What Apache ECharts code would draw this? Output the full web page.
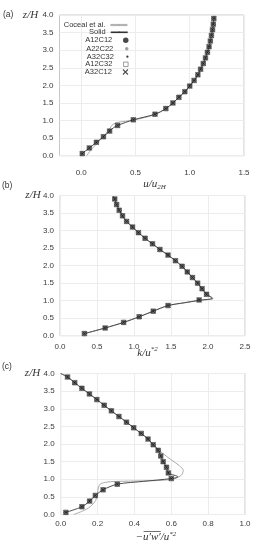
<!DOCTYPE html>
<html><head><meta charset="utf-8">
<script src="https://cdn.jsdelivr.net/npm/echarts@6/dist/echarts.min.js"></script>
<style>html,body{margin:0;padding:0;background:#fff}#c{width:258px;height:550px}</style>
</head><body><div id="c"></div>
<script>
// ---------- data ----------
const zLevels   = [0.06,0.22,0.38,0.54,0.70,0.86,1.02,1.18,1.34,1.50,1.66,1.82,1.98,2.14,2.30,2.46,2.62,2.78,2.94,3.10,3.26,3.42,3.58,3.74,3.90];
const uMarkers  = [0.01,0.075,0.14,0.205,0.262,0.335,0.48,0.68,0.78,0.845,0.90,0.955,1.00,1.04,1.075,1.10,1.125,1.145,1.163,1.178,1.19,1.20,1.21,1.217,1.222];
const kMarkers  = [0.33,0.61,0.86,1.07,1.26,1.46,1.88,1.98,1.92,1.86,1.79,1.72,1.65,1.56,1.46,1.35,1.25,1.15,1.06,0.98,0.90,0.845,0.80,0.765,0.74];
const uwMarkers = [0.028,0.115,0.157,0.188,0.23,0.307,0.60,0.584,0.574,0.556,0.543,0.529,0.502,0.474,0.437,0.396,0.357,0.316,0.275,0.236,0.196,0.156,0.115,0.076,0.037];

const solidU  = [[0.0,0.0],[0.01,0.06],[0.075,0.22],[0.14,0.38],[0.205,0.54],[0.262,0.70],[0.30,0.80],[0.335,0.86],[0.48,1.02],[0.68,1.18],[0.78,1.34],[0.845,1.50],[0.90,1.66],[0.955,1.82],[1.00,1.98],[1.04,2.14],[1.075,2.30],[1.10,2.46],[1.125,2.62],[1.145,2.78],[1.163,2.94],[1.178,3.10],[1.19,3.26],[1.20,3.42],[1.21,3.58],[1.217,3.74],[1.222,3.90],[1.225,3.97]];
const cocealU = [[0.05,0.0],[0.10,0.20],[0.16,0.40],[0.22,0.60],[0.265,0.78],[0.295,0.90],[0.34,0.95],[0.48,1.01],[0.68,1.17],[0.78,1.34],[0.845,1.50],[0.90,1.66],[0.955,1.82],[1.00,1.98],[1.04,2.14],[1.075,2.30],[1.10,2.46],[1.125,2.62],[1.145,2.78],[1.163,2.94],[1.178,3.10],[1.19,3.26],[1.20,3.42],[1.21,3.58],[1.217,3.74],[1.222,3.90]];

const solidK  = [[0.33,0.06],[0.61,0.22],[0.86,0.38],[1.07,0.54],[1.26,0.70],[1.46,0.86],[1.68,0.94],[1.88,1.01],[2.06,1.07],[1.98,1.18],[1.92,1.34],[1.86,1.50],[1.79,1.66],[1.72,1.82],[1.65,1.98],[1.56,2.14],[1.46,2.30],[1.35,2.46],[1.25,2.62],[1.15,2.78],[1.06,2.94],[0.98,3.10],[0.90,3.26],[0.845,3.42],[0.80,3.58],[0.765,3.74],[0.74,3.90],[0.72,3.98]];
const cocealK = [[0.33,0.06],[0.61,0.22],[0.86,0.38],[1.07,0.54],[1.26,0.70],[1.46,0.86],[1.69,0.94],[1.90,1.01],[2.07,1.06],[1.99,1.18],[1.92,1.34],[1.86,1.50],[1.79,1.66],[1.72,1.82],[1.65,1.98],[1.56,2.14],[1.46,2.30],[1.35,2.46],[1.25,2.62],[1.15,2.78],[1.06,2.94],[0.98,3.10],[0.90,3.26],[0.845,3.42],[0.80,3.58],[0.765,3.74],[0.74,3.90],[0.72,3.98]];

const solidUW  = [[0.0,4.0],[0.037,3.90],[0.076,3.74],[0.115,3.58],[0.156,3.42],[0.196,3.26],[0.236,3.10],[0.275,2.94],[0.316,2.78],[0.357,2.62],[0.396,2.46],[0.437,2.30],[0.474,2.14],[0.502,1.98],[0.529,1.82],[0.543,1.66],[0.556,1.50],[0.574,1.34],[0.584,1.18],[0.636,1.07],[0.60,1.02],[0.45,0.94],[0.307,0.86],[0.23,0.70],[0.188,0.54],[0.157,0.38],[0.115,0.22],[0.028,0.06]];
const cocealUW = [[0.0,4.0],[0.037,3.90],[0.076,3.74],[0.115,3.58],[0.156,3.42],[0.196,3.26],[0.236,3.10],[0.275,2.94],[0.316,2.78],[0.357,2.62],[0.396,2.46],[0.437,2.30],[0.474,2.14],[0.51,1.95],[0.55,1.75],[0.60,1.55],[0.645,1.38],[0.665,1.25],[0.655,1.12],[0.62,1.02],[0.55,0.97],[0.40,0.95],[0.27,0.93],[0.22,0.88],[0.205,0.78],[0.20,0.60],[0.19,0.40],[0.16,0.22],[0.12,0.10],[0.07,0.0]];

const zTicks  = [0,0.5,1.0,1.5,2.0,2.5,3.0,3.5,4.0];
const uTicks  = [0,0.5,1.0,1.5];
const kTicks  = [0,0.5,1.0,1.5,2.0,2.5];
const uwTicks = [0,0.2,0.4,0.6,0.8,1.0];
const lineNames   = ['Coceal et al.','Solid'];
const markerNames = ['A12C12','A22C22','A32C32','A12C32','A32C12'];

// ---------- chart ----------
const chart = echarts.init(document.getElementById('c'), null, {renderer:'canvas'});
const SANS = '"Liberation Sans", Arial, sans-serif';
const SERIF = '"Liberation Serif", "Times New Roman", serif';
const labelColor = '#3a3a3a';

const grids = [
  {left:59.5, top:15,    width:184.5, height:140.7},
  {left:60,   top:195.5, width:185,   height:140.2},
  {left:60.7, top:373.5, width:184.3, height:141}
];
grids.forEach(g => { g.show = true; g.borderColor = '#c8c8c8'; g.borderWidth = 1; g.backgroundColor = 'transparent'; });

const xRanges = [
  {min:-0.2, max:1.5, ticks:uTicks, margin:13},
  {min:0, max:2.5, ticks:kTicks, margin:7},
  {min:0, max:1.0, ticks:uwTicks, margin:5}
];
const fmt = v => Number(v).toFixed(1);

const xAxis = xRanges.map((r,i) => ({
  type:'value', gridIndex:i, min:r.min, max:r.max,
  axisLine:{show:false},
  axisTick:{show:false, customValues:r.ticks},
  axisLabel:{customValues:r.ticks, formatter:fmt, fontSize:8, fontFamily:SANS, color:labelColor, margin:r.margin},
  splitLine:{show:true, lineStyle:{color:'#ececec', width:1}}
}));
const yAxis = [0,1,2].map(i => ({
  type:'value', gridIndex:i, min:0, max:4, interval:0.5,
  axisLine:{show:false}, axisTick:{show:false},
  axisLabel:{formatter:fmt, fontSize:8, fontFamily:SANS, color:labelColor, margin:6},
  splitLine:{show:true, lineStyle:{color:'#ececec', width:1}}
}));

const markerStyle = {
  'A12C12': {symbol:'circle', symbolSize:4.5, itemStyle:{color:'#1a1a1a'}},
  'A22C22': {symbol:'circle', symbolSize:3, itemStyle:{color:'#888888'}},
  'A32C32': {symbol:'circle', symbolSize:1.6, itemStyle:{color:'#000000'}},
  'A12C32': {symbol:'path://M0,0H10V10H0Z', symbolSize:4.5, itemStyle:{color:'rgba(255,255,255,0)', borderColor:'#444', borderWidth:0.8}},
  'A32C12': {symbol:'path://M0,0L10,10M10,0L0,10', symbolSize:4.5, itemStyle:{color:'rgba(255,255,255,0)', borderColor:'#222', borderWidth:0.8}}
};
const markerDrawOrder = ['A12C32','A12C12','A22C22','A32C32','A32C12'];

const panels = [
  {markers:uMarkers,  coceal:cocealU,  solid:solidU},
  {markers:kMarkers,  coceal:cocealK,  solid:solidK},
  {markers:uwMarkers, coceal:cocealUW, solid:solidUW}
];

const series = [];
panels.forEach((p,i) => {
  series.push({name:lineNames[0], type:'line', xAxisIndex:i, yAxisIndex:i, data:p.coceal, symbol:'none', smooth:0.3,
    lineStyle:{color:'#ababab', width:1}, itemStyle:{color:'#ababab'}, z:2, silent:true});
  series.push({name:lineNames[1], type:'line', xAxisIndex:i, yAxisIndex:i, data:p.solid, symbol:'none', smooth:0.3,
    lineStyle:{color:'#4a4a4a', width:1}, itemStyle:{color:'#333'}, z:3, silent:true});
  const pts = p.markers.map((x,j) => [x, zLevels[j]]);
  markerDrawOrder.forEach(n => {
    const s = markerStyle[n];
    series.push({name:n, type:'scatter', xAxisIndex:i, yAxisIndex:i, data:pts,
      symbol:s.symbol, symbolSize:s.symbolSize, itemStyle:s.itemStyle, z:4, silent:true});
  });
});

// legends: one component per entry so the icons line up on the right
const legendRows = [
  {name:'Coceal et al.', cy:25,   h:2, lineW:2.2, lineC:'#b3b3b3'},
  {name:'Solid',         cy:32.3, h:2, lineW:1.6, lineC:'#333'},
  {name:'A12C12',        cy:40.3, h:5.5},
  {name:'A22C22',        cy:48.7, h:3.5},
  {name:'A32C32',        cy:56.7, h:2.2},
  {name:'A12C32',        cy:64.3, h:4.5},
  {name:'A32C12',        cy:72,   h:5}
];
const legend = legendRows.map(r => {
  const o = {
    data:[r.name], orient:'horizontal', align:'right', right:129.5, top:r.cy - 4,
    padding:0, itemWidth:17, itemHeight:r.h, selectedMode:false,
    textStyle:{fontSize:7.5, lineHeight:8, fontFamily:SANS, color:'#333'}
  };
  if (r.lineW) o.lineStyle = {width:r.lineW, color:r.lineC};
  if (r.name === 'A12C32') o.itemStyle = {borderWidth:0.8, borderColor:'#666'};
  if (r.name === 'A32C12') o.itemStyle = {borderWidth:1.1, borderColor:'#222'};
  return o;
});

// text helpers for axis names
const ctx = document.createElement('canvas').getContext('2d');
const nameFont = 'italic 11px ' + SERIF;
ctx.font = nameFont;
const supFont = 'italic 7px ' + SERIF;
function w(t, f){ ctx.font = f; return ctx.measureText(t).width; }

const uwMain = '\u2212u\u2032w\u2032/u';
const uwTotal = w(uwMain, nameFont) + w('*2', supFont);
const uwX0 = 156 - uwTotal/2;
const olStart = uwX0 + w('\u2212', nameFont) + 0.5;
const olEnd = uwX0 + w('\u2212u\u2032w\u2032', nameFont);

const richName = {
  m:{fontSize:11, fontStyle:'italic', fontFamily:SERIF, fill:'#333', lineHeight:14},
  s:{fontSize:7, fontStyle:'italic', fontFamily:SERIF, fill:'#333', lineHeight:14, verticalAlign:'bottom', padding:[4,0,0,0]},
  p:{fontSize:7, fontStyle:'italic', fontFamily:SERIF, fill:'#333', lineHeight:14, verticalAlign:'top', padding:[0,0,5,0]}
};
function txt(x, y, text, font, align){
  return {type:'text', x:x, y:y, silent:true, style:{text:text, font:font, fill:'#333', align:align||'center', verticalAlign:'middle'}};
}
function rtxt(x, y, text, align){
  return {type:'text', x:x, y:y, silent:true, style:{text:text, rich:richName, align:align||'center', verticalAlign:'middle', fill:'#333'}};
}

const graphic = [
  txt(3, 15, '(a)', '8.5px ' + SANS, 'left'),
  txt(2, 186, '(b)', '8.5px ' + SANS, 'left'),
  txt(2, 367, '(c)', '8.5px ' + SANS, 'left'),
  txt(30.5, 15, 'z/H', nameFont),
  txt(33, 195.5, 'z/H', nameFont),
  txt(32.5, 373.5, 'z/H', nameFont),
  rtxt(154.5, 184, '{m|u/u}{s|2H}'),
  rtxt(147.5, 353, '{m|k/u}{p|*2}'),
  rtxt(uwX0, 537.3, '{m|' + uwMain + '}{p|*2}', 'left'),
  {type:'line', silent:true, shape:{x1:olStart, y1:531.5, x2:olEnd, y2:531.5}, style:{stroke:'#333', lineWidth:0.7}}
];

chart.setOption({
  animation:false,
  backgroundColor:'#ffffff',
  grid:grids, xAxis:xAxis, yAxis:yAxis,
  legend:legend, series:series, graphic:graphic
});
</script></body></html>
